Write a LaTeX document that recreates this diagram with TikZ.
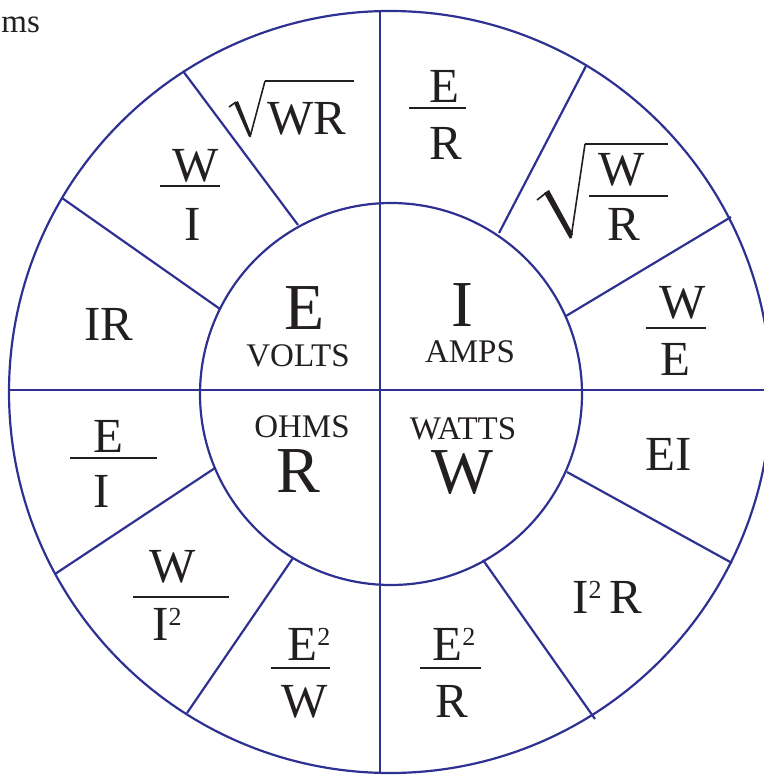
\documentclass[tikz,border=0pt]{standalone}
\usepackage{fontspec}
\setmainfont{Liberation Serif}
\definecolor{wire}{HTML}{2E3192}
\definecolor{ink}{HTML}{231F20}
\newcommand\sqr{\raisebox{7.5pt}{\fontsize{13}{13}\selectfont 2}}
\tikzset{
  every node/.style={inner sep=0pt, text=ink},
  ring/.style ={draw=wire, line width=1.1pt},
  spoke/.style={draw=wire, line width=1.1pt},
  big/.style  ={font=\fontsize{32.8}{36}\selectfont},
  unit/.style ={font=\fontsize{16.5}{18}\selectfont},
  frm/.style  ={font=\fontsize{24.5}{28}\selectfont},
  bar/.style  ={draw=ink, line width=1.3pt},
  rad/.style  ={draw=ink, line width=0.8pt},
}

\begin{document}
\begin{tikzpicture}[x=0.5pt, y=-0.5pt]
\useasboundingbox (0,0) rectangle (764,775);

% ============ wheel =========================================================
\draw[ring] (390,392) circle[radius=190.5pt];
\draw[ring] (391,394) circle[radius=95.5pt];
\draw[ring] (380,11) -- (380,773);
\draw[ring] (9,390) -- (771,390);
\foreach \xa/\ya/\xb/\yb in {183/71/298/225, 62/198/220/309, 586/66/499/233,
  731/217/566/316, 55/574/215/468, 187/713/293/558, 732/563/567/472, 595/719/483/560}{
  \draw[spoke] (\xa,\ya) -- (\xb,\yb);
}

\node[unit, anchor=base west] (ohm) at (1,33) {ms};

% ============ centre: the four quantities ===================================
\node[big, anchor=base]  (e)     at (305,329) {E};
\node[unit, anchor=base] (volts) at (298,366) {VOLTS};
\node[big, anchor=base]  (i)     at (462,326) {I};
\node[unit, anchor=base] (amps)  at (470,362) {AMPS};
\node[unit, anchor=base] (ohms)  at (302,437) {OHMS};
\node[big, anchor=base]  (r)     at (298,492) {R};
\node[unit, anchor=base] (watts) at (463,439) {WATTS};
\node[big, anchor=base]  (w)     at (462,493) {W};

% ============ outer ring: formulas ==========================================
% I = E/R
\node[frm, anchor=base] (erN) at (444,103) {E};
\draw[bar] (409,108) -- (466,108);
\node[frm, anchor=base] (erD) at (446,160) {R};
% I = sqrt(W/R)
\node[frm, anchor=base] (wrN) at (622,185) {W};
\draw[bar] (589,196) -- (668,196);
\node[frm, anchor=base] (wrD) at (624,240) {R};
\draw[rad] (537,200) -- (546,193);
\fill[ink] (544,193) -- (549,190) -- (573,234) -- (570,239) -- cycle;
\draw[rad] (571,238) -- (585,144);
\draw[bar] (585,144) -- (668,144);
% I = W/E
\node[frm, anchor=base] (weN) at (683,318) {W};
\draw[bar] (646,328) -- (706,328);
\node[frm, anchor=base] (weD) at (675,375) {E};
% W = EI, I^2 R, E^2/R
\node[frm, anchor=base] (ei) at (669,470) {EI};
\node[frm, anchor=base west] (iir) at (572,613) {I\sqr\hspace{4pt}R};
\node[frm, anchor=base west] (eerN) at (432,660) {E\sqr};
\draw[bar] (420,668) -- (481,668);
\node[frm, anchor=base] (eerD) at (452,717) {R};
% R = E^2/W, W/I^2, E/I
\node[frm, anchor=base west] (eewN) at (287,660) {E\sqr};
\draw[bar] (271,668) -- (330,668);
\node[frm, anchor=base] (eewD) at (305,717) {W};
\node[frm, anchor=base] (wiiN) at (173,582) {W};
\draw[bar] (133,597) -- (229,597);
\node[frm, anchor=base west] (wiiD) at (152,640) {I\sqr};
\node[frm, anchor=base] (eiN) at (108,452) {E};
\draw[bar] (70,458) -- (157,458);
\node[frm, anchor=base] (eiD) at (102,507) {I};
% E = IR, W/I, sqrt(WR)
\node[frm, anchor=base] (ir) at (109,340) {IR};
\node[frm, anchor=base] (wiN) at (196,182) {W};
\draw[bar] (160,186) -- (220,186);
\node[frm, anchor=base] (wiD) at (193,240) {I};
\node[frm, anchor=base west] (wrr) at (267,135) {WR};
\draw[rad] (229,107) -- (236,102);
\fill[ink] (234,103) -- (238,101) -- (251,134) -- (249,137) -- cycle;
\draw[rad] (250,137) -- (265,81);
\draw[bar] (265,81) -- (354,81);

\end{tikzpicture}
\end{document}
